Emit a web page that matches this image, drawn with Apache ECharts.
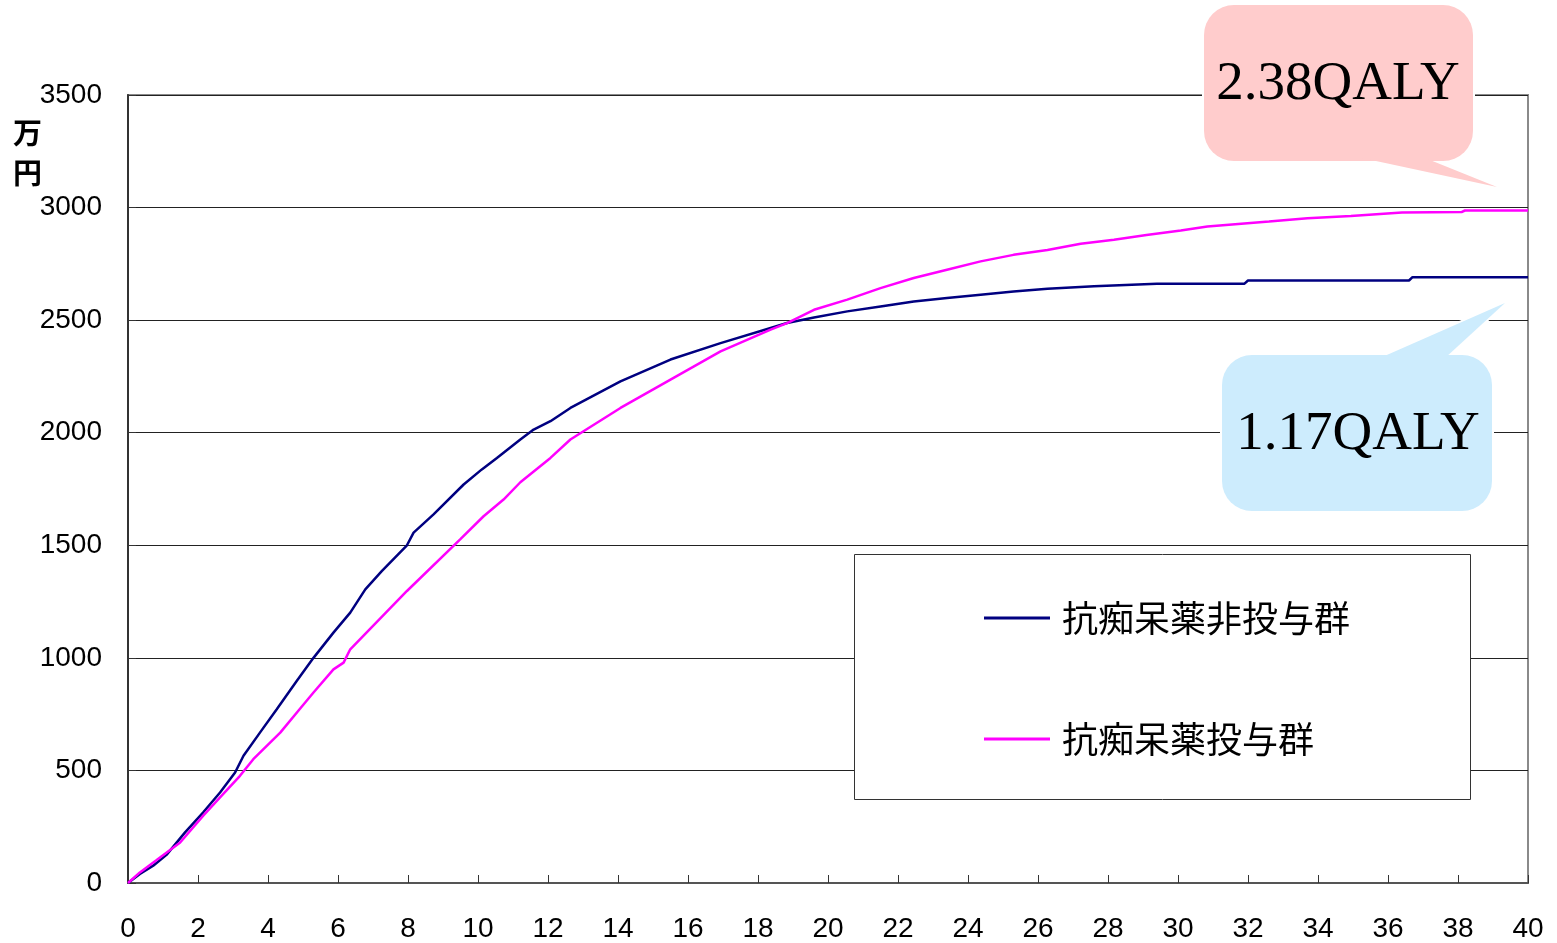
<!DOCTYPE html>
<html>
<head>
<meta charset="utf-8">
<style>
  html, body { margin: 0; padding: 0; background: #fff; }
  #chart { width: 1557px; height: 943px; }
</style>
<script src="https://cdn.jsdelivr.net/npm/echarts@6/dist/echarts.min.js"></script>
</head>
<body>
<div id="chart"></div>
<script>
// Cumulative cost (万円) over years, per group
const seriesNames = ['抗痴呆薬非投与群', '抗痴呆薬投与群'];

const yearsNon = [0,0.34,0.72,1.1,1.63,2.15,2.63,3.06,3.3,3.77,4.25,4.82,5.3,5.87,6.35,6.78,7.25,7.97,8.16,8.73,9.59,10.11,10.54,11.21,11.59,12.07,12.64,14.07,15.5,16.93,18.36,18.83,19.6,20.55,21.5,22.45,23.4,24.36,25.3,26.27,27.6,29.4,31.9,32.0,36.6,36.7,40];
const costNon  = [0,40,77,125,225,314,402,491,565,668,772,897,1000,1112,1201,1304,1385,1500,1556,1637,1770,1837,1888,1970,2014,2051,2110,2228,2325,2398,2465,2487,2512,2539,2561,2583,2598,2613,2627,2639,2650,2662,2662,2676,2676,2691,2691];

const yearsTrt = [0,0.34,0.8,1.49,2.15,2.63,3.2,3.58,4.35,4.92,5.3,5.87,6.16,6.35,7.97,9.49,10.16,10.73,11.21,12.07,12.64,14.07,15.5,16.93,18.36,18.83,19.6,20.55,21.5,22.45,23.4,24.36,25.3,26.27,27.22,28.17,29.1,30.08,30.84,32.6,33.7,34.94,36.4,38.1,38.2,40];
const costTrt  = [0,47,100,180,299,380,476,550,668,775,846,949,979,1038,1297,1526,1629,1703,1780,1888,1970,2110,2236,2361,2458,2487,2546,2591,2642,2687,2724,2761,2790,2812,2839,2857,2878,2898,2916,2938,2953,2963,2978,2980,2987,2987];

// Callout texts
const qalyTrt = '2.38QALY';
const qalyNon = '1.17QALY';
const yUnit = '万\n円';

const pairs = (xs, ys) => xs.map((x, i) => [x, ys[i]]);

const numFont = 'Liberation Sans, Arial, sans-serif';
const cjkFont = '"Noto Sans CJK JP", "Noto Sans CJK SC", sans-serif';
const serifFont = '"Liberation Serif", "Times New Roman", serif';

// Speech bubble: rounded box plus a pointed tail; drawn twice so the
// white outline surrounds the whole shape without a seam between parts.
function bubble(box, tail, fill, z) {
  const rectShape = { x: box.x, y: box.y, width: box.w, height: box.h, r: 30 };
  return [
    { type: 'rect', z: z, shape: rectShape, style: { fill: fill, stroke: '#fff', lineWidth: 4 } },
    { type: 'polygon', z: z, shape: { points: tail }, style: { fill: fill, stroke: '#fff', lineWidth: 4, lineJoin: 'miter' } },
    { type: 'rect', z: z + 1, shape: rectShape, style: { fill: fill } },
    { type: 'polygon', z: z + 1, shape: { points: tail }, style: { fill: fill } }
  ];
}

const chart = echarts.init(document.getElementById('chart'), null, { renderer: 'canvas' });

chart.setOption({
  animation: false,
  backgroundColor: '#ffffff',
  grid: {
    left: 128, right: 29, top: 95, bottom: 59,
    show: true, borderColor: '#8a8a8a', borderWidth: 2, backgroundColor: 'transparent'
  },
  xAxis: {
    type: 'value', min: 0, max: 40, interval: 2,
    axisLine: { show: true, lineStyle: { color: '#555', width: 2 } },
    axisTick: { show: true, inside: true, length: 8, lineStyle: { color: '#333', width: 1 } },
    axisLabel: { color: '#000', fontSize: 28, fontFamily: numFont, margin: 32 },
    splitLine: { show: false }
  },
  yAxis: {
    type: 'value', min: 0, max: 3500, interval: 500,
    axisLine: { show: true, lineStyle: { color: '#333', width: 2 } },
    axisTick: { show: true, inside: true, length: 8, lineStyle: { color: '#333', width: 1 } },
    axisLabel: {
      color: '#000', fontSize: 28, fontFamily: numFont, margin: 26,
      padding: [10, 0, 0, 0],
      formatter: v => String(v)
    },
    splitLine: { show: true, lineStyle: { color: '#222', width: 1 } }
  },
  legend: {
    orient: 'vertical',
    left: 984, top: 600,
    padding: 0,
    itemGap: 85,
    itemWidth: 66, itemHeight: 3,
    icon: 'rect',
    z: 10,
    textStyle: { color: '#000', fontSize: 36, fontFamily: cjkFont, padding: [0, 0, 0, 7] },
    data: seriesNames
  },
  graphic: [
    {
      type: 'rect', z: 8,
      shape: { x: 854.5, y: 554.5, width: 616, height: 245 },
      style: { fill: '#fff', stroke: '#333', lineWidth: 1 }
    },
    {
      type: 'text', z: 8, x: 13, y: 113,
      style: { text: yUnit, fill: '#000', font: 'bold 29px ' + cjkFont, lineHeight: 40 }
    },
    ...bubble({ x: 1204, y: 5, w: 269, h: 156 }, [[1362, 158], [1497, 187], [1425, 158]], '#ffcccc', 12),
    {
      type: 'text', z: 14, x: 1338, y: 85,
      style: { text: qalyTrt, fill: '#000', font: '55px ' + serifFont, align: 'center', verticalAlign: 'middle' }
    },
    ...bubble({ x: 1222, y: 355, w: 270, h: 156 }, [[1380, 358], [1505, 303], [1445, 358]], '#cdecfd', 12),
    {
      type: 'text', z: 14, x: 1358, y: 435,
      style: { text: qalyNon, fill: '#000', font: '55px ' + serifFont, align: 'center', verticalAlign: 'middle' }
    }
  ],
  series: [
    {
      name: seriesNames[0], type: 'line', showSymbol: false, symbol: 'none',
      data: pairs(yearsNon, costNon),
      itemStyle: { color: '#000080' },
      lineStyle: { color: '#000080', width: 2.5 }
    },
    {
      name: seriesNames[1], type: 'line', showSymbol: false, symbol: 'none',
      data: pairs(yearsTrt, costTrt),
      itemStyle: { color: '#ff00ff' },
      lineStyle: { color: '#ff00ff', width: 2.5 }
    }
  ]
});
</script>
</body>
</html>
